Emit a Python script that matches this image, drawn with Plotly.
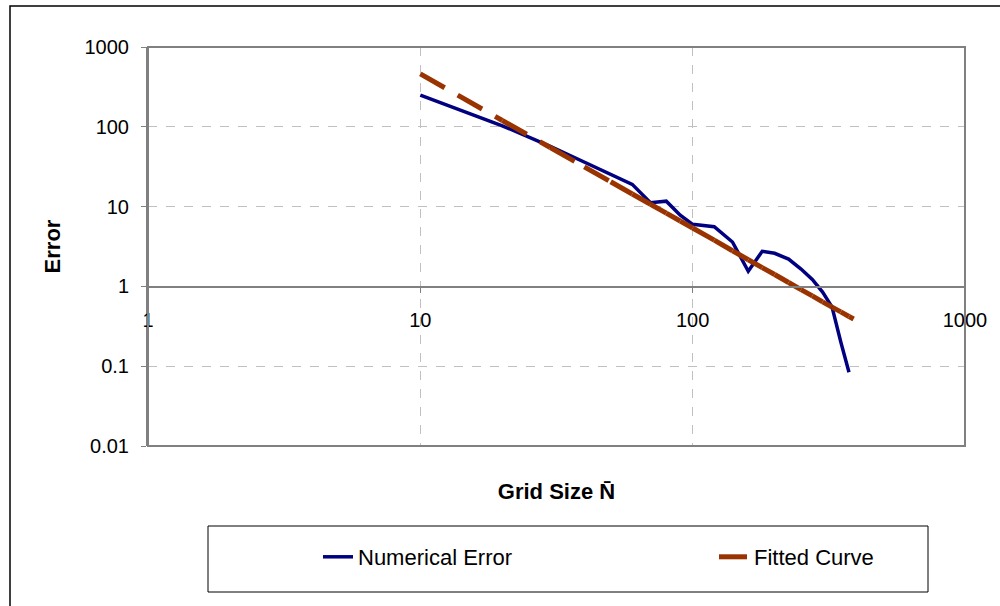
import plotly.graph_objects as go

# Numerical error data
num_x = [10, 20, 30, 40, 50, 60, 70, 80, 90, 100, 120, 140, 160, 180, 200,
         225, 250, 275, 300, 325, 350, 375]
num_y = [250, 103, 57, 36, 25, 19, 11.2, 11.7, 7.8, 6.0, 5.6, 3.6, 1.55, 2.75,
         2.6, 2.2, 1.65, 1.22, 0.85, 0.55, 0.2, 0.084]

# Fitted curve
fit_x = [10, 20, 30, 40, 50, 60, 70, 80, 90, 100, 120, 140, 160, 180, 200,
         225, 250, 275, 300, 325, 350, 375, 390]
fit_y = [460, 120, 55, 31.5, 20.5, 14.4, 10.7, 8.3, 6.6, 5.4, 3.8, 2.8, 2.16,
         1.72, 1.41, 1.12, 0.91, 0.76, 0.64, 0.55, 0.48, 0.42, 0.39]

x_ticks = [1, 10, 100, 1000]
x_ticktext = ["1", "10", "100", "1000"]
y_ticks = [0.01, 0.1, 1, 10, 100, 1000]
y_ticktext = ["0.01", "0.1", "1", "10", "100", "1000"]

FONT = "Liberation Sans, Arial, sans-serif"
AXIS_GREY = "#808080"
GRID = "#c0c0c0"

fig = go.Figure()

fig.add_trace(go.Scatter(
    x=num_x, y=num_y, mode="lines", name="Numerical Error",
    line=dict(color="#000080", width=3.5), legend="legend",
))

# Excel restarts the dash pattern at every data point, so draw per segment
for i in range(len(fit_x) - 1):
    fig.add_trace(go.Scatter(
        x=fit_x[i:i + 2], y=fit_y[i:i + 2], mode="lines",
        name="Fitted Curve", legendgroup="fit", showlegend=(i == 0),
        legend="legend2",
        line=dict(color="#993300", width=5, dash="28px,15px"),
    ))

W, H = 1000, 606
L, R, T, B = 148, 35, 47, 160
pw, ph = W - L - R, H - T - B


def px2x(px):
    return (px - L) / pw


def py2y(py):
    return (H - B - py) / ph


legend_common = dict(
    orientation="h", xanchor="left", yanchor="middle",
    font=dict(family=FONT, size=22, color="black"),
    bgcolor="rgba(0,0,0,0)", borderwidth=0,
)

fig.update_layout(
    width=W, height=H,
    margin=dict(l=L, r=R, t=T, b=B),
    paper_bgcolor="white", plot_bgcolor="white",
    font=dict(family=FONT, size=20, color="black"),
    showlegend=True,
    legend=dict(x=px2x(318), y=py2y(557), **legend_common),
    legend2=dict(x=px2x(714), y=py2y(557), **legend_common),
    xaxis=dict(
        type="log", range=[0, 3],
        tickvals=x_ticks, ticktext=x_ticktext,
        showgrid=True, gridcolor=GRID, griddash="dash", gridwidth=1,
        showline=True, linecolor=AXIS_GREY, linewidth=2,
        ticks="outside", ticklen=5, tickcolor=AXIS_GREY, tickwidth=1,
        ticklabelstandoff=10,
        anchor="free", position=py2y(287),
        tickfont=dict(family=FONT, size=20, color="black"),
        title=dict(text="<b>Grid Size N\u0304</b>", standoff=153,
                   font=dict(family=FONT, size=22, color="black")),
        zeroline=False,
    ),
    yaxis=dict(
        type="log", range=[-2, 3],
        tickvals=y_ticks, ticktext=y_ticktext,
        showgrid=True, gridcolor=GRID, griddash="dash", gridwidth=1,
        showline=True, linecolor=AXIS_GREY, linewidth=2,
        ticks="outside", ticklen=5, tickcolor=AXIS_GREY, tickwidth=1,
        ticklabelstandoff=8,
        tickfont=dict(family=FONT, size=20, color="black"),
        title=dict(text="<b>Error</b>", standoff=18,
                   font=dict(family=FONT, size=22, color="black")),
        zeroline=False,
    ),
    shapes=[
        # plot area border
        dict(type="rect", xref="paper", yref="paper", x0=0, y0=0, x1=1, y1=1,
             line=dict(color=AXIS_GREY, width=2), layer="above"),
        # outer chart border
        dict(type="rect", xref="paper", yref="paper",
             x0=px2x(10), y0=py2y(6), x1=px2x(1200), y1=py2y(900),
             line=dict(color="black", width=1.5)),
        # legend box
        dict(type="rect", xref="paper", yref="paper",
             x0=px2x(208), y0=py2y(526), x1=px2x(928), y1=py2y(592),
             line=dict(color="black", width=1)),
    ],
)

fig.write_html("out.html")
